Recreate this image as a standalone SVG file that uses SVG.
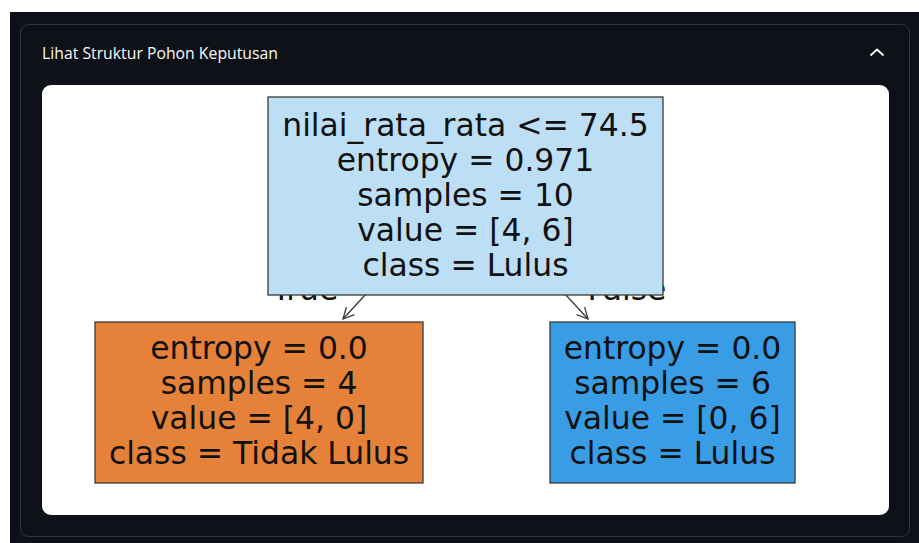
<svg xmlns="http://www.w3.org/2000/svg" width="919" height="543" viewBox="0 0 919 543">
<defs>
<style>
.t{font-family:"DejaVu Sans",sans-serif;font-size:31.4px;fill:#111111;text-anchor:middle}
.box{stroke:#3a3a3a;stroke-width:1.3}
.conn{stroke:#3a3a3a;stroke-width:1.3;fill:none}
</style>
<marker id="ah" viewBox="-12 -7 14 14" markerWidth="14" markerHeight="14" refX="0" refY="0" orient="auto" markerUnits="userSpaceOnUse">
<path d="M-11,-5.5 L0,0 L-11,5.5" fill="none" stroke="#3a3a3a" stroke-width="1.3"/>
</marker>
</defs>
<rect x="0" y="0" width="919" height="543" fill="#ffffff"/>
<rect x="10" y="12" width="909" height="531" fill="#0e1117"/>
<rect x="20.5" y="24.5" width="889" height="512" rx="8" fill="none" stroke="#34363d" stroke-width="1"/>
<text x="42" y="58.5" font-family="'Open Sans','Noto Sans',sans-serif" font-size="15.5" fill="#fafafa" textLength="236" lengthAdjust="spacingAndGlyphs">Lihat Struktur Pohon Keputusan</text>
<polyline points="871,55 877,49.5 883,55" fill="none" stroke="#fafafa" stroke-width="1.8" stroke-linecap="round" stroke-linejoin="round"/>
<rect x="42" y="85" width="847" height="430" rx="9" fill="#ffffff"/>
<g id="edge-labels">
<text class="t" x="305" y="300">True</text>
<text class="t" x="627" y="300">False</text>
</g>
<g id="connectors">
<line class="conn" x1="366" y1="294" x2="343" y2="319" marker-end="url(#ah)"/>
<line class="conn" x1="565" y1="294" x2="588" y2="319" marker-end="url(#ah)"/>
</g>
<g id="root">
<rect class="box" x="268" y="97" width="395" height="198" fill="#bddff6"/>
<text class="t" x="465.5" y="135.5">nilai_rata_rata &lt;= 74.5</text>
<text class="t" x="465.5" y="170.5">entropy = 0.971</text>
<text class="t" x="465.5" y="205.5">samples = 10</text>
<text class="t" x="465.5" y="240.5">value = [4, 6]</text>
<text class="t" x="465.5" y="275.5">class = Lulus</text>
</g>
<g id="left">
<rect class="box" x="95" y="322" width="328" height="161" fill="#e58139"/>
<text class="t" x="259" y="358.5">entropy = 0.0</text>
<text class="t" x="259" y="393.5">samples = 4</text>
<text class="t" x="259" y="428.5">value = [4, 0]</text>
<text class="t" x="259" y="463.5">class = Tidak Lulus</text>
</g>
<g id="right">
<rect class="box" x="550" y="322" width="245" height="161" fill="#399de5"/>
<text class="t" x="672.5" y="358.5">entropy = 0.0</text>
<text class="t" x="672.5" y="393.5">samples = 6</text>
<text class="t" x="672.5" y="428.5">value = [0, 6]</text>
<text class="t" x="672.5" y="463.5">class = Lulus</text>
</g>
</svg>
